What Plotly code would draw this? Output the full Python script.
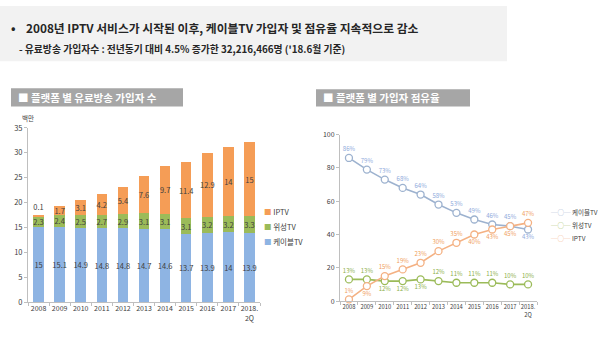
import plotly.graph_objects as go

# ---------------- data ----------------
years = ["2008", "2009", "2010", "2011", "2012", "2013", "2014", "2015", "2016", "2017", "2018.<br>2Q"]
series_names = ["케이블TV", "위성TV", "IPTV"]

cable_subs = [15, 15.1, 14.9, 14.8, 14.8, 14.7, 14.6, 13.7, 13.9, 14, 13.9]
sat_subs = [2.3, 2.4, 2.5, 2.7, 2.9, 3.1, 3.1, 3.1, 3.2, 3.2, 3.3]
iptv_subs = [0.1, 1.7, 3.1, 4.2, 5.4, 7.6, 9.7, 11.4, 12.9, 14, 15]

cable_share = [86, 79, 73, 68, 64, 58, 53, 49, 46, 45, 43]
sat_share = [13, 13, 12, 12, 13, 12, 11, 11, 11, 10, 10]
iptv_share = [1, 9, 15, 19, 23, 30, 35, 40, 43, 45, 47]

left_ticks = [0, 5, 10, 15, 20, 25, 30, 35]
right_ticks = [0, 20, 40, 60, 80, 100]

header_main = "2008년 IPTV 서비스가 시작된 이후, 케이블TV 가입자 및 점유율 지속적으로 감소"
header_sub = "- 유료방송 가입자수 : 전년동기 대비 4.5% 증가한 32,216,466명 ('18.6월 기준)"
title_left = "■ 플랫폼 별 유료방송 가입자 수"
title_right = "■ 플랫폼 별 가입자 점유율"
unit_left = "백만"

# ---------------- styles ----------------
FONT = "Noto Sans CJK KR, Noto Sans, sans-serif"
bar_colors = ["#8EB4E3", "#9BBB59", "#F59D56"]
line_colors = ["#9DB2CF", "#9BBB59", "#F4B183"]
label_colors = ["#8EA9DB", "#8DB04A", "#F0A060"]
axis_col = "#BFBFBF"
tick_col = "#404040"

W, H = 600, 337
def px(x):
    return x / W
def py(y):
    return 1 - y / H

fig = go.Figure()

# ---------------- bars ----------------
bar_vals = [cable_subs, sat_subs, iptv_subs]
for i, (name, vals) in enumerate(zip(series_names, bar_vals)):
    if i == 2:
        tpos = ["outside"] + ["inside"] * (len(vals) - 1)
    else:
        tpos = ["inside"] * len(vals)
    fig.add_trace(go.Bar(
        x=years, y=vals, name=name,
        marker=dict(color=bar_colors[i], line=dict(width=0)),
        text=[f"{v:g}" for v in vals],
        textposition=tpos, insidetextanchor="middle", textangle=0,
        textfont=dict(size=7.5, color=tick_col, family=FONT),
        cliponaxis=False, showlegend=False,
        xaxis="x", yaxis="y",
    ))

# ---------------- lines ----------------
share_vals = [cable_share, sat_share, iptv_share]
share_pos = [
    ["top center"] * 10 + ["bottom center"],
    ["top center"] * 2 + ["bottom center"] * 3 + ["top center"] * 6,
    ["top center", "bottom center"] + ["top center"] * 5 + ["bottom center"] * 3 + ["top center"],
]
for i, (name, vals) in enumerate(zip(series_names, share_vals)):
    fig.add_trace(go.Scatter(
        x=years, y=vals, name=name, mode="lines+markers+text",
        line=dict(color=line_colors[i], width=1.6),
        marker=dict(symbol="circle", size=7, color="white",
                    line=dict(color=line_colors[i], width=1.3)),
        text=[f"{v}%" for v in vals], textposition=share_pos[i],
        textfont=dict(size=6, color=label_colors[i], family=FONT),
        cliponaxis=False, showlegend=False,
        xaxis="x2", yaxis="y2",
    ))

# ---------------- annotations / shapes ----------------
shapes = [
    dict(type="rect", xref="paper", yref="paper", x0=0, x1=px(507), y0=py(57), y1=1,
         fillcolor="#F2F2F2", line=dict(width=0), layer="below"),
    dict(type="rect", xref="paper", yref="paper", x0=px(11), x1=px(183), y0=py(104), y1=py(85),
         fillcolor="#A6A6A6", line=dict(width=0), layer="below"),
    dict(type="rect", xref="paper", yref="paper", x0=px(316), x1=px(470), y0=py(104), y1=py(86),
         fillcolor="#A6A6A6", line=dict(width=0), layer="below"),
]

ann = []
def add_text(x, y, text, size, color="#262626", bold=False, anchor="left"):
    ann.append(dict(xref="paper", yref="paper", x=px(x), y=py(y), text=(f"<b>{text}</b>" if bold else text),
                    showarrow=False, xanchor=anchor, yanchor="middle",
                    font=dict(size=size, color=color, family=FONT)))

add_text(9, 22, "•", 12, bold=True)
add_text(24, 22, header_main, 11.8, bold=True)
add_text(17, 44, header_sub, 9.8, bold=True)
add_text(16, 95, title_left, 10.5, color="white", bold=True)
add_text(321, 95, title_right, 10.5, color="white", bold=True)
add_text(20, 116, unit_left, 6.5, color=tick_col)

# legend, left (stack order: top item first)
left_leg_y = [243, 228, 212]
for i, name in enumerate(series_names):
    add_text(262, left_leg_y[i], f'<span style="color:{bar_colors[i]}">■</span> {name}', 7.5, color=tick_col)

# legend, right
right_leg_y = [213, 226, 240]
for i, name in enumerate(series_names):
    add_text(549, right_leg_y[i], f'<span style="color:{line_colors[i]}">─○─</span> {name}', 6.5, color=tick_col)

axis_common = dict(showgrid=False, zeroline=False, showline=True, linecolor=axis_col, linewidth=1,
                   ticks="outside", tickcolor=axis_col, ticklen=3)

fig.update_layout(
    width=W, height=H, autosize=False,
    margin=dict(l=0, r=0, t=0, b=0),
    paper_bgcolor="white", plot_bgcolor="white",
    barmode="stack", bargap=0.5,
    font=dict(family=FONT, color=tick_col),
    uniformtext=dict(minsize=7.5, mode="show"),
    showlegend=False,
    xaxis=dict(domain=[px(28), px(260)], anchor="y", type="category", range=[-0.5, 10.5],
               tickangle=0, tickson="boundaries", tickfont=dict(size=7, color=tick_col), **axis_common),
    yaxis=dict(domain=[1 - 306 / H, 1 - 126 / H], anchor="x", range=[0, 35], tickvals=left_ticks,
               tickfont=dict(size=7.5, color=tick_col), **axis_common),
    xaxis2=dict(domain=[px(340), px(537)], anchor="y2", type="category", range=[-0.5, 10.5],
                tickangle=0, tickson="boundaries", tickfont=dict(size=5.8, color=tick_col), **axis_common),
    yaxis2=dict(domain=[1 - 305 / H, 1 - 133 / H], anchor="x2", range=[0, 100], tickvals=right_ticks,
                ticksuffix="%", tickfont=dict(size=7, color=tick_col), **axis_common),
    shapes=shapes, annotations=ann,
)

fig.write_html("out.html")
